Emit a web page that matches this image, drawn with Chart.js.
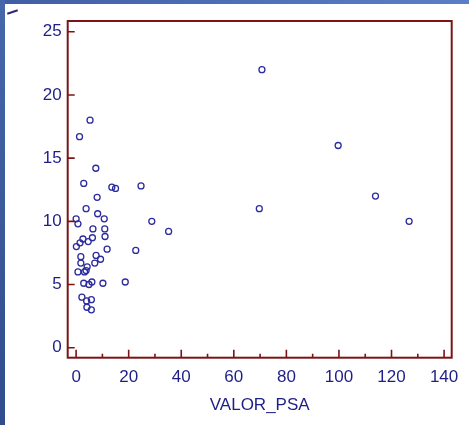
<!DOCTYPE html>
<html><head><meta charset="utf-8">
<script src="https://cdn.jsdelivr.net/npm/chart.js@4"></script>
<style>
html,body{margin:0;padding:0;background:#fff;width:469px;height:425px;overflow:hidden;position:relative}
#wrap{position:absolute;left:0;top:0;width:469px;height:425px}
#topband{position:absolute;left:0;top:0;width:469px;height:4px;background:linear-gradient(to right,#3f5fa5,#5b7fc6)}
#leftband{position:absolute;left:0;top:0;width:5px;height:425px;background:linear-gradient(to bottom,#4767ab,#2f4c8c)}
#mark{position:absolute;left:7px;top:11px;width:11px;height:2px;background:#2a2a7a;transform:rotate(-18deg)}
</style></head><body>
<div id="wrap"><canvas id="c" width="469" height="425"></canvas></div>
<div id="topband"></div><div id="leftband"></div><div id="mark"></div>
<script>
// ---- data ----
const psaValues = [5.3,1.3,7.5,2.9,13.6,15.0,24.7,8.0,3.8,8.2,10.7,0.0,0.7,28.8,6.4,10.9,11.0,6.2,4.6,2.6,1.5,0.1,11.8,22.7,1.8,7.6,9.3,1.8,7.1,4.2,0.7,3.2,3.8,2.9,4.9,6.0,10.2,18.7,2.2,4.0,5.8,4.1,5.8,35.2,69.7,70.7,99.7,113.9,126.7];
const yValues   = [18.0,16.7,14.2,13.0,12.7,12.6,12.8,11.9,11.0,10.6,10.2,10.2,9.8,10.0,9.4,9.4,8.8,8.7,8.4,8.6,8.3,8.0,7.8,7.7,7.2,7.3,7.0,6.7,6.7,6.4,6.0,6.0,6.1,5.1,5.0,5.2,5.1,5.2,4.0,3.7,3.8,3.2,3.0,9.2,11.0,22.0,16.0,12.0,10.0];
const xTickValues = [0,20,40,60,80,100,120,140];
const xMinorTickValues = [10,30,50,70,90,110,130];
const yTickValues = [0,5,10,15,20,25];
const xTitle = 'VALOR_PSA';

const FRAME = '#7c1414';
const TEXT = '#1e1e86';
const MARK = '#2c2c9e';
const FONT = "'Liberation Sans Narrow','Arial Narrow','Liberation Sans',Arial,sans-serif";

const points = psaValues.map((v,i)=>({x:v,y:yValues[i]}));

const framePlugin = {
  id:'frame',
  afterDraw(chart){
    const {ctx, chartArea:a, scales:{x,y}} = chart;
    ctx.save();
    ctx.strokeStyle = FRAME;
    ctx.lineWidth = 1.6;
    ctx.beginPath();
    xTickValues.forEach(v=>{const p=x.getPixelForValue(v); ctx.moveTo(p,a.bottom); ctx.lineTo(p,a.bottom-8);});
    xMinorTickValues.forEach(v=>{const p=x.getPixelForValue(v); ctx.moveTo(p,a.bottom); ctx.lineTo(p,a.bottom-4);});
    yTickValues.forEach(v=>{const p=y.getPixelForValue(v); ctx.moveTo(a.left,p); ctx.lineTo(a.left+7,p);});
    ctx.stroke();
    ctx.lineWidth = 2;
    ctx.strokeRect(a.left,a.top,a.right-a.left,a.bottom-a.top);
    ctx.restore();
  }
};

new Chart(document.getElementById('c'),{
  type:'scatter',
  data:{datasets:[{data:points,pointStyle:'circle',pointRadius:3,pointBorderWidth:1.3,
    pointBorderColor:MARK,pointBackgroundColor:'rgba(0,0,0,0)',pointHoverRadius:3}]},
  plugins:[framePlugin],
  options:{
    responsive:false,animation:false,devicePixelRatio:1,
    layout:{padding:{top:21,right:17.3,left:0,bottom:0}},
    plugins:{legend:{display:false},tooltip:{enabled:false}},
    scales:{
      x:{type:'linear',min:-3.2,max:142.9,
        afterBuildTicks(s){s.ticks=xTickValues.map(v=>({value:v}));},
        afterFit(s){s.height=67.3;},
        grid:{display:false,drawTicks:false},border:{display:false},
        ticks:{color:TEXT,font:{family:FONT,size:17},padding:9,maxRotation:0},
        title:{display:true,text:xTitle,color:TEXT,font:{family:FONT,size:17},padding:{top:0,bottom:9}}},
      y:{type:'linear',min:-0.79,max:25.85,
        afterBuildTicks(s){s.ticks=yTickValues.map(v=>({value:v}));},
        afterFit(s){s.width=67.7;},
        grid:{display:false,drawTicks:false},border:{display:false},
        ticks:{color:TEXT,font:{family:FONT,size:17},padding:6}}
    }
  }
});
</script>
</body></html>
